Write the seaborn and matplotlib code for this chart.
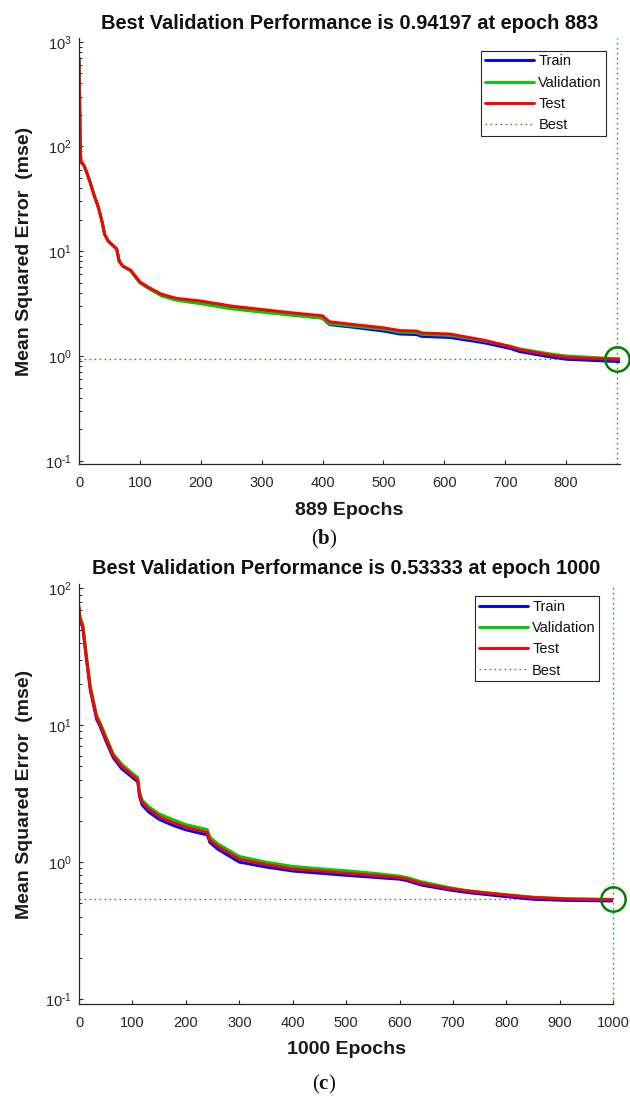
import matplotlib
matplotlib.use("Agg")
import matplotlib.pyplot as plt
import numpy as np
import pandas as pd
import seaborn as sns
from matplotlib.ticker import LogLocator, NullFormatter, FixedLocator, FuncFormatter

# ---- panel (b): 889 epochs ----
epochs_b = [0, 1, 2, 3, 8, 12, 18, 25, 32, 38, 42, 48, 56, 62, 66, 72, 85, 100,
            115, 135, 160, 200, 250, 300, 350, 400, 406, 412, 450, 500, 527, 555,
            562, 609, 664, 708, 724, 773, 801, 856, 883, 889]
train_b = [695, 300, 95, 72, 66, 58, 46, 34, 26, 19, 14.5, 12.5, 11.3, 10.5, 8.0,
           7.2, 6.5, 5.0, 4.4, 3.8, 3.45, 3.2, 2.87, 2.66, 2.47, 2.3, 2.12, 1.99,
           1.88, 1.73, 1.62, 1.6, 1.54, 1.5, 1.34, 1.18, 1.10, 0.98, 0.93, 0.9,
           0.885, 0.885]
valid_b = [695, 300, 95, 72, 66, 58, 46, 34, 26, 19, 14.5, 12.5, 11.3, 10.5, 8.0,
           7.2, 6.5, 5.0, 4.4, 3.75, 3.4, 3.15, 2.82, 2.62, 2.45, 2.3, 2.15, 2.03,
           1.93, 1.8, 1.69, 1.67, 1.61, 1.57, 1.40, 1.24, 1.17, 1.05, 1.0, 0.96,
           0.942, 0.942]
test_b = [695, 300, 95, 72, 66, 58, 46, 34, 26, 19, 14.5, 12.5, 11.3, 10.5, 8.0,
          7.2, 6.6, 5.1, 4.5, 3.9, 3.55, 3.35, 3.0, 2.78, 2.58, 2.42, 2.25, 2.12,
          2.0, 1.86, 1.75, 1.73, 1.66, 1.62, 1.42, 1.23, 1.15, 1.02, 0.97, 0.94,
          0.93, 0.93]
best_epoch_b = 883
best_val_b = 0.94197
n_epochs_b = 889
xticks_b = [0, 100, 200, 300, 400, 500, 600, 700, 800]

# ---- panel (c): 1000 epochs ----
epochs_c = [0, 2, 7, 14, 21, 33, 39, 52, 64, 80, 100, 110, 113, 118, 130, 150,
            175, 200, 240, 245, 260, 300, 350, 400, 450, 500, 550, 600, 615, 640,
            694, 726, 788, 850, 913, 1000]
train_c = [72, 58, 52, 30, 18.2, 11.0, 9.9, 7.4, 5.8, 4.8, 4.15, 3.85, 3.05, 2.62,
           2.33, 2.05, 1.86, 1.72, 1.58, 1.39, 1.24, 1.0, 0.92, 0.86, 0.83, 0.8,
           0.775, 0.75, 0.73, 0.68, 0.625, 0.6, 0.565, 0.535, 0.525, 0.52]
valid_c = [75, 61, 55, 32, 19.5, 11.8, 10.6, 8.0, 6.2, 5.2, 4.45, 4.15, 3.3, 2.85,
           2.55, 2.25, 2.05, 1.88, 1.73, 1.52, 1.36, 1.1, 1.0, 0.93, 0.895, 0.865,
           0.83, 0.79, 0.77, 0.72, 0.65, 0.62, 0.585, 0.555, 0.54, 0.53333]
test_c = [72, 59, 53, 31, 18.8, 11.4, 10.2, 7.7, 6.0, 5.0, 4.3, 4.0, 3.2, 2.75,
          2.45, 2.15, 1.95, 1.8, 1.65, 1.45, 1.3, 1.05, 0.96, 0.89, 0.86, 0.83,
          0.80, 0.77, 0.75, 0.70, 0.64, 0.615, 0.58, 0.55, 0.538, 0.532]
best_epoch_c = 1000
best_val_c = 0.53333
n_epochs_c = 1000
xticks_c = [0, 100, 200, 300, 400, 500, 600, 700, 800, 900, 1000]

set_names = ["Train", "Validation", "Test"]
set_colors = {"Train": (0, 0, 1), "Validation": (0, 0.8, 0), "Test": (1, 0, 0)}
best_line_color = (0.1, 0.65, 0.1)
best_mark_color = (0, 0.5, 0)
ink = "#262626"

sns.set_theme(style="ticks")
plt.rcParams["font.family"] = ["Liberation Sans", "DejaVu Sans"]
plt.rcParams["mathtext.fontset"] = "custom"
plt.rcParams["mathtext.rm"] = "Liberation Serif"
plt.rcParams["mathtext.bf"] = "Liberation Serif:bold"

fig = plt.figure(figsize=(6.3, 10.99), dpi=100)
fig.patch.set_facecolor("white")


def decade_label(value, pos):
    exp = int(round(np.log10(value)))
    if exp < 0:
        return r"$\mathdefault{10^{\text{-}%d}}$" % (-exp)
    return r"$\mathdefault{10^{%d}}$" % exp


def draw_panel(ax, epochs, train, valid, test, best_epoch, best_val, n_epochs,
               xticks, ylim, legend_anchor):
    n = len(epochs)
    df = pd.DataFrame({
        "epoch": list(epochs) * 3,
        "mse": list(train) + list(valid) + list(test),
        "set": ["Train"] * n + ["Validation"] * n + ["Test"] * n,
    })
    ax.set_yscale("log")
    sns.lineplot(data=df, x="epoch", y="mse", hue="set", hue_order=set_names,
                 palette=set_colors, linewidth=2.1, estimator=None, sort=False,
                 legend=False, ax=ax)

    vline = ax.axvline(best_epoch, color=best_line_color, linewidth=1.0,
                       dashes=(1.2, 2.4), clip_on=False, zorder=1)
    ax.axhline(best_val, color=best_line_color, linewidth=1.0,
               dashes=(1.2, 2.4), zorder=1)
    ax.plot([best_epoch], [best_val], marker="o", markersize=17.5,
            markerfacecolor="none", markeredgecolor=best_mark_color,
            markeredgewidth=1.8, linestyle="none", clip_on=False, zorder=5)

    ax.set_xlim(0, n_epochs)
    ax.set_ylim(*ylim)
    ax.xaxis.set_major_locator(FixedLocator(xticks))
    ax.yaxis.set_major_locator(LogLocator(base=10, numticks=12))
    ax.yaxis.set_major_formatter(FuncFormatter(decade_label))
    ax.yaxis.set_minor_locator(LogLocator(base=10, subs=range(2, 10), numticks=12))
    ax.yaxis.set_minor_formatter(NullFormatter())

    sns.despine(ax=ax)
    for side in ("left", "bottom"):
        ax.spines[side].set_color(ink)
        ax.spines[side].set_linewidth(0.9)
    ax.tick_params(which="major", direction="in", length=3.1, width=0.8,
                   colors=ink, labelsize=10.5)
    ax.tick_params(which="minor", direction="in", length=2.0, width=0.7,
                   colors=ink)
    ax.tick_params(axis="x", which="major", pad=8.5)
    ax.tick_params(axis="y", which="major", pad=5)

    ax.set_title(f"Best Validation Performance is {best_val:.5f} at epoch {best_epoch}",
                 fontsize=14.4, fontweight="bold", color="#111111", pad=7)
    ax.set_xlabel(f"{n_epochs} Epochs", fontsize=14, fontweight="bold",
                  color="#1a1a1a", va="center")
    ax.set_ylabel("Mean Squared Error  (mse)", fontsize=14, fontweight="bold",
                  color="#1a1a1a", va="center")

    handles = ax.get_lines()[:3] + [vline]
    leg = ax.legend(handles, set_names + ["Best"], loc="upper right",
                    bbox_to_anchor=legend_anchor, frameon=True, fancybox=False,
                    framealpha=1, edgecolor=ink, fontsize=10.5,
                    handlelength=3.4, handletextpad=0.27, labelspacing=0.5,
                    borderpad=0.25, borderaxespad=0)
    leg.get_frame().set_linewidth(0.8)
    for txt in leg.get_texts():
        txt.set_color("#111111")
    return ax


ax_b = fig.add_axes([0.1254, 0.5775, 0.8592, 0.3876])
draw_panel(ax_b, epochs_b, train_b, valid_b, test_b, best_epoch_b, best_val_b,
           n_epochs_b, xticks_b, (0.0924, 1077), (0.973, 0.971))
ax_b.xaxis.set_label_coords(0.5, -0.1085)
ax_b.yaxis.set_label_coords(-0.1005, 0.5)

ax_c = fig.add_axes([0.1254, 0.0862, 0.8481, 0.3824])
draw_panel(ax_c, epochs_c, train_c, valid_c, test_c, best_epoch_c, best_val_c,
           n_epochs_c, xticks_c, (0.0915, 107.5), (0.974, 0.9714))
ax_c.xaxis.set_label_coords(0.5, -0.1087)
ax_c.yaxis.set_label_coords(-0.1019, 0.5)

fig.text(0.514, 1 - 539 / 1099, r"$(\mathbf{b})$", fontsize=15, ha="center",
         va="center", color="#111111")
fig.text(0.514, 1 - 1084 / 1099, r"$(\mathbf{c})$", fontsize=15, ha="center",
         va="center", color="#111111")

fig.savefig("out.png", dpi=100, facecolor="white")
